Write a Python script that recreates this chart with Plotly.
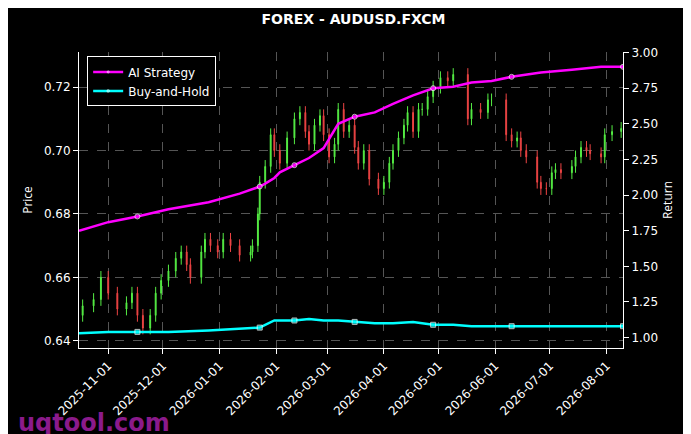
import plotly.graph_objects as go

# daily closes (gaps are days with no bars)
price_dates = ['2025-10-18', '2025-10-24', '2025-10-28', '2025-11-01', '2025-11-06', '2025-11-11',
               '2025-11-14', '2025-11-17', '2025-11-20', '2025-11-24', '2025-11-27', '2025-11-30',
               '2025-12-04', '2025-12-08', '2025-12-11', '2025-12-14', '2025-12-16', '2025-12-22',
               '2025-12-24', '2025-12-27', '2025-12-31', '2026-01-03', '2026-01-07', '2026-01-12',
               '2026-01-18', '2026-01-19', '2026-01-22', '2026-01-23', '2026-01-26', '2026-01-29',
               '2026-01-31', '2026-02-03', '2026-02-07', '2026-02-11', '2026-02-14', '2026-02-17',
               '2026-02-19', '2026-02-22', '2026-02-25', '2026-02-27', '2026-03-02', '2026-03-05',
               '2026-03-07', '2026-03-10', '2026-03-13', '2026-03-16', '2026-03-18', '2026-03-21',
               '2026-03-24', '2026-03-29', '2026-04-01', '2026-04-04', '2026-04-06', '2026-04-09',
               '2026-04-12', '2026-04-14', '2026-04-17', '2026-04-20', '2026-04-22', '2026-04-25',
               '2026-04-28', '2026-05-02', '2026-05-06', '2026-05-09', '2026-05-17', '2026-05-19',
               '2026-05-24', '2026-05-28', '2026-05-30', '2026-06-07', '2026-06-10', '2026-06-13',
               '2026-06-15', '2026-06-18', '2026-06-24', '2026-06-26', '2026-06-29', '2026-07-02',
               '2026-07-04', '2026-07-07', '2026-07-13', '2026-07-15', '2026-07-18', '2026-07-21',
               '2026-07-23', '2026-07-29', '2026-07-31', '2026-08-04', '2026-08-09']
price_close = [0.651, 0.653, 0.660, 0.655, 0.650, 0.652,
               0.655, 0.648, 0.644, 0.648, 0.655, 0.659,
               0.662, 0.666, 0.668, 0.664, 0.660, 0.668,
               0.672, 0.670, 0.668, 0.672, 0.670, 0.667,
               0.668, 0.670, 0.680, 0.690, 0.695, 0.705,
               0.700, 0.696, 0.704, 0.710, 0.712, 0.706,
               0.702, 0.708, 0.711, 0.705, 0.698, 0.702,
               0.713, 0.706, 0.708, 0.701, 0.696, 0.700,
               0.691, 0.688, 0.690, 0.696, 0.700, 0.704,
               0.708, 0.712, 0.706, 0.713, 0.713, 0.717,
               0.720, 0.723, 0.722, 0.724, 0.710, 0.713,
               0.712, 0.716, 0.716, 0.705, 0.703, 0.704,
               0.700, 0.698, 0.690, 0.688, 0.688, 0.693,
               0.694, 0.693, 0.695, 0.698, 0.701, 0.700,
               0.699, 0.698, 0.705, 0.706, 0.707]
price_open = [0.648] + price_close[:-1]

line_dates = ['2025-10-16', '2025-11-01', '2025-11-17', '2025-12-04', '2025-12-26', '2026-01-12',
              '2026-01-23', '2026-01-26', '2026-01-31', '2026-02-03', '2026-02-11', '2026-02-19',
              '2026-02-27', '2026-03-07', '2026-03-16', '2026-03-27', '2026-04-06', '2026-04-17',
              '2026-04-28', '2026-05-09', '2026-05-19', '2026-05-30', '2026-06-10', '2026-06-26',
              '2026-07-13', '2026-07-29', '2026-08-10']
ai_strategy = [1.75, 1.81, 1.85, 1.90, 1.95, 2.01,
               2.06, 2.08, 2.12, 2.16, 2.21, 2.26,
               2.33, 2.50, 2.55, 2.58, 2.64, 2.70,
               2.75, 2.76, 2.79, 2.80, 2.83, 2.86,
               2.88, 2.90, 2.90]
buy_hold = [1.03, 1.04, 1.04, 1.04, 1.05, 1.06,
            1.07, 1.09, 1.12, 1.12, 1.12, 1.13,
            1.12, 1.12, 1.11, 1.10, 1.10, 1.11,
            1.09, 1.09, 1.08, 1.08, 1.08, 1.08,
            1.08, 1.08, 1.08]

highs = [max(o, c) + 0.002 for o, c in zip(price_open, price_close)]
lows = [min(o, c) - 0.002 for o, c in zip(price_open, price_close)]

marker_sizes = [5 if i % 4 == 2 else 0 for i in range(len(line_dates))]

fig = go.Figure()
fig.add_trace(go.Candlestick(x=price_dates, open=price_open, high=highs, low=lows, close=price_close,
                             increasing=dict(line=dict(color='#55ee44', width=1), fillcolor='#55ee44'),
                             decreasing=dict(line=dict(color='#ee4444', width=1), fillcolor='#ee4444'),
                             showlegend=False, whiskerwidth=0))
fig.add_trace(go.Scatter(x=line_dates, y=ai_strategy, name='AI Strategy', yaxis='y2',
                         mode='lines+markers', line=dict(color='#ff00ff', width=2.5),
                         marker=dict(size=marker_sizes, symbol='circle')))
fig.add_trace(go.Scatter(x=line_dates, y=buy_hold, name='Buy-and-Hold', yaxis='y2',
                         mode='lines+markers', line=dict(color='#00ffff', width=2.5),
                         marker=dict(size=marker_sizes, symbol='square')))

axis_font = dict(color='white', size=12, family='DejaVu Sans')
grid = dict(showgrid=True, gridcolor='#555555', griddash='dash', gridwidth=0.5, zeroline=False,
            tickfont=axis_font, ticks='outside', tickcolor='white', linecolor='white', mirror=False)

fig.update_layout(
    width=691, height=434,
    paper_bgcolor='black', plot_bgcolor='black',
    margin=dict(l=71, r=76, t=44, b=94),
    title=dict(text='<b>FOREX - AUDUSD.FXCM</b>', x=0.5, y=0.985, xanchor='center', yanchor='top',
               font=dict(color='white', size=14, family='DejaVu Sans')),
    xaxis=dict(**grid, range=['2025-10-16', '2026-08-10'], rangeslider=dict(visible=False),
               tickformat='%Y-%m-%d', dtick='M1', tick0='2025-11-01', tickangle=-45,
               showline=True),
    yaxis=dict(**grid, range=[0.6377, 0.7311], dtick=0.02, tickformat='.2f', showline=True,
               title=dict(text='Price', font=dict(color='white', size=12), standoff=8)),
    yaxis2=dict(tickfont=axis_font, overlaying='y', side='right', range=[0.927, 3.004],
                dtick=0.25, tickformat='.2f', showgrid=False, zeroline=False, ticks='outside',
                tickcolor='white', showline=True, linecolor='white',
                title=dict(text='Return', font=dict(color='white', size=12), standoff=6)),
    legend=dict(x=0.015, y=0.985, xanchor='left', yanchor='top', bgcolor='black',
                bordercolor='white', borderwidth=1, font=dict(color='white', size=12, family='DejaVu Sans')),
    annotations=[dict(text='<b>uqtool.com</b>', xref='paper', yref='paper', x=-0.115, y=-0.2,
                      xanchor='left', yanchor='top', showarrow=False,
                      font=dict(color='#8b1a8b', size=24, family='DejaVu Sans'))],
)

fig.write_html("out.html")
